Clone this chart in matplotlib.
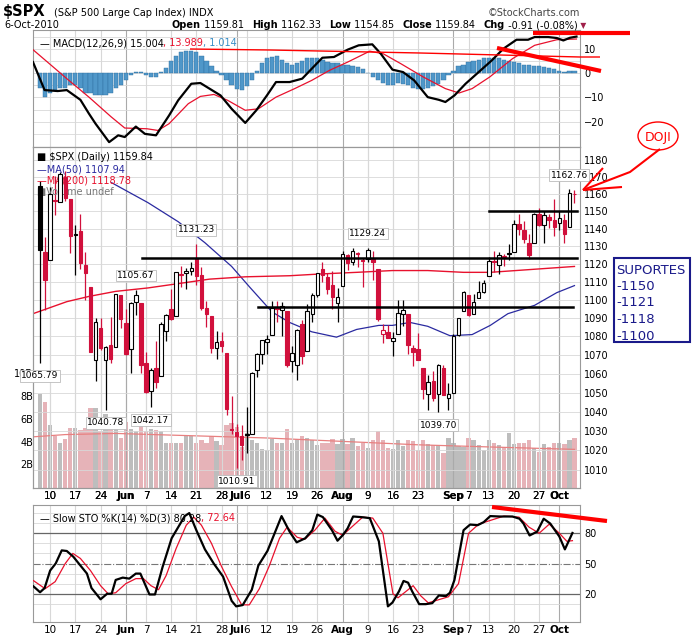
import numpy as np
import pandas as pd
import matplotlib
matplotlib.use("Agg")
import matplotlib.pyplot as plt
from matplotlib.patches import Ellipse, Rectangle
from matplotlib.lines import Line2D

# ---- data ----
holidays = ["2010-05-31", "2010-07-05", "2010-09-06"]
dates = [d for d in pd.bdate_range("2010-05-06", "2010-10-06") if d.strftime("%Y-%m-%d") not in holidays]

opens = [1164.4, 1127.0, 1122.3, 1156.4, 1155.4, 1170.0, 1157.2, 1136.5, 1138.8, 1119.6,
         1107.3, 1067.3, 1084.8, 1067.4, 1075.5, 1074.3, 1102.6, 1087.3, 1073.0, 1098.8,
         1098.4, 1065.8, 1050.8, 1062.8, 1058.8, 1082.7, 1095.0, 1091.2, 1114.0, 1115.0,
         1116.2, 1122.8, 1113.9, 1095.6, 1090.9, 1074.0, 1077.5, 1071.1, 1031.1, 1029.3,
         1027.6, 1028.1, 1028.5, 1062.0, 1070.5, 1077.2, 1080.7, 1095.6, 1094.5, 1093.9,
         1066.9, 1064.5, 1086.7, 1072.1, 1092.2, 1102.9, 1117.4, 1112.8, 1108.1, 1098.4,
         1107.5, 1125.3, 1121.1, 1125.8, 1122.1, 1122.8, 1122.9, 1116.9, 1081.5, 1082.2,
         1077.7, 1081.2, 1092.1, 1092.4, 1073.6, 1073.4, 1063.2, 1049.0, 1056.3, 1049.3,
         1062.9, 1046.9, 1049.7, 1080.7, 1093.6, 1102.6, 1092.4, 1101.2, 1104.6, 1113.4,
         1121.2, 1119.4, 1123.9, 1126.4, 1126.6, 1142.8, 1139.5, 1131.7, 1131.7, 1148.6,
         1142.3, 1146.5, 1145.0, 1143.5, 1145.0, 1140.7, 1159.81]
highs = [1167.6, 1135.1, 1163.9, 1170.5, 1172.9, 1173.6, 1157.2, 1141.9, 1148.7, 1126.6,
         1107.3, 1090.2, 1089.9, 1075.0, 1090.8, 1103.5, 1102.6, 1094.8, 1098.6, 1105.67,
         1098.4, 1071.4, 1063.2, 1077.7, 1087.8, 1092.2, 1105.9, 1115.6, 1118.7, 1117.7,
         1121.0, 1131.23, 1118.5, 1099.6, 1090.9, 1083.1, 1082.6, 1071.1, 1048.1, 1033.5,
         1032.9, 1042.5, 1060.9, 1071.3, 1078.2, 1080.8, 1099.5, 1099.1, 1098.7, 1093.9,
         1074.7, 1083.9, 1089.0, 1097.5, 1103.7, 1115.0, 1121.0, 1114.7, 1115.9, 1106.4,
         1127.3, 1125.4, 1128.8, 1126.6, 1123.1, 1129.24, 1127.2, 1116.9, 1086.7, 1086.3,
         1082.6, 1100.1, 1099.8, 1092.4, 1075.6, 1081.6, 1063.2, 1059.4, 1061.5, 1065.2,
         1064.4, 1055.1, 1081.3, 1090.1, 1105.1, 1102.6, 1103.3, 1110.3, 1110.9, 1123.9,
         1127.4, 1126.5, 1125.4, 1131.5, 1144.9, 1148.6, 1144.4, 1136.8, 1148.9, 1152.0,
         1150.0, 1148.6, 1157.2, 1150.3, 1148.2, 1162.76, 1162.33]
lows = [1065.79, 1094.2, 1122.3, 1147.7, 1155.4, 1156.1, 1126.1, 1114.0, 1117.2, 1100.0,
        1071.6, 1055.9, 1072.7, 1040.78, 1065.6, 1074.3, 1084.8, 1069.9, 1060.5, 1091.8,
        1060.5, 1049.9, 1042.17, 1052.3, 1058.8, 1077.5, 1089.0, 1091.2, 1107.1, 1105.9,
        1113.9, 1108.2, 1094.2, 1085.3, 1071.3, 1067.9, 1071.5, 1038.4, 1028.3, 1010.91,
        1015.0, 1018.4, 1028.5, 1058.2, 1065.1, 1070.5, 1080.7, 1087.7, 1080.5, 1063.3,
        1061.1, 1056.9, 1065.3, 1072.1, 1087.9, 1101.8, 1109.8, 1103.1, 1094.8, 1088.0,
        1107.5, 1116.8, 1119.5, 1118.1, 1107.2, 1120.9, 1111.0, 1088.6, 1076.7, 1079.0,
        1069.5, 1081.2, 1085.8, 1070.7, 1063.9, 1067.1, 1046.7, 1041.0, 1045.4, 1039.70,
        1048.8, 1040.9, 1049.7, 1080.4, 1093.6, 1091.2, 1092.4, 1101.2, 1103.9, 1113.4,
        1115.6, 1114.6, 1118.9, 1122.4, 1126.6, 1136.2, 1131.6, 1122.8, 1131.7, 1141.7,
        1132.1, 1140.3, 1136.1, 1139.4, 1131.9, 1140.7, 1154.85]
closes = [1128.15, 1110.88, 1159.73, 1155.79, 1171.67, 1157.44, 1135.68, 1136.94, 1120.80, 1115.05,
          1071.59, 1087.69, 1073.65, 1074.03, 1067.95, 1103.06, 1089.41, 1070.71, 1098.38, 1102.83,
          1064.88, 1050.47, 1062.00, 1055.69, 1086.84, 1091.60, 1089.63, 1115.23, 1114.61, 1116.04,
          1117.51, 1113.20, 1095.31, 1092.04, 1073.69, 1076.76, 1074.57, 1041.24, 1030.71, 1027.37,
          1022.58, 1028.06, 1060.27, 1070.25, 1077.96, 1078.75, 1095.34, 1095.17, 1096.48, 1064.88,
          1071.25, 1083.48, 1069.59, 1093.67, 1102.66, 1115.01, 1113.84, 1106.13, 1101.53, 1101.60,
          1125.86, 1120.46, 1127.24, 1125.81, 1121.64, 1127.79, 1121.06, 1089.47, 1083.61, 1079.25,
          1079.38, 1092.54, 1094.16, 1075.63, 1071.69, 1067.36, 1051.87, 1055.33, 1047.22, 1064.59,
          1048.92, 1049.33, 1080.29, 1090.10, 1104.51, 1091.84, 1098.87, 1104.18, 1109.55, 1121.90,
          1121.10, 1125.07, 1124.66, 1125.59, 1142.71, 1139.78, 1134.28, 1124.83, 1148.67, 1142.16,
          1147.70, 1144.73, 1141.20, 1146.24, 1137.03, 1160.75, 1159.84]
volume_b = [8.3, 7.6, 5.5, 4.6, 4.0, 4.3, 5.3, 5.3, 5.1, 5.3, 7.0, 7.0, 5.0, 6.5, 6.0, 5.3, 4.4, 5.8,
            5.2, 5.0, 6.0, 5.0, 5.2, 5.1, 5.0, 4.0, 4.0, 4.0, 4.0, 4.6, 4.6, 4.0, 4.2, 4.0, 4.6, 4.1,
            3.8, 5.5, 5.7, 5.4, 3.6, 4.8, 4.2, 4.0, 3.4, 3.3, 4.3, 4.0, 4.0, 5.2, 4.0, 4.3, 4.6, 4.4,
            4.2, 3.8, 4.0, 4.0, 4.3, 3.9, 4.3, 3.9, 4.4, 3.7, 4.0, 3.5, 4.2, 5.0, 4.2, 3.5, 3.4, 4.2,
            3.7, 4.2, 4.1, 3.3, 4.2, 3.9, 3.8, 3.8, 3.1, 4.4, 4.0, 3.7, 3.6, 4.4, 4.2, 3.8, 3.3, 4.2,
            4.0, 3.8, 3.6, 4.8, 3.9, 4.0, 4.0, 4.2, 3.5, 3.2, 3.9, 3.6, 4.0, 4.0, 3.9, 4.2, 4.4]
vol_ma_x = [-1.4, 5, 15, 30, 45, 60, 75, 90, 106]
vol_ma_y = [4.5, 4.7, 4.8, 4.6, 4.4, 4.1, 3.8, 3.6, 3.4]

ma50_x = [14.2, 21.4, 27.4, 32.7, 38, 41.6, 46, 49.5, 53.9, 58.8, 62.8, 67.2, 69.9, 73.4, 76.9,
          81.3, 85.7, 89.3, 92.8, 98.1, 102.5, 106]
ma50_y = [1166.6, 1155, 1144, 1132, 1118.6, 1107, 1093.4, 1087.6, 1082.5, 1079.6, 1083.8, 1086,
          1086, 1087.6, 1085.5, 1080.4, 1081, 1086, 1092.4, 1097, 1104, 1107.9]
ma200_x = [-1.4, 5.3, 9.7, 15, 21.4, 27.4, 33.6, 40.7, 49.5, 55.7, 62.8, 69.9, 76.9, 84, 89.3, 96.4, 106]
ma200_y = [1092.4, 1099, 1101.9, 1104.7, 1106.6, 1109, 1111.5, 1112.8, 1113.4, 1114.4, 1115.3,
           1116.3, 1116.3, 1115.3, 1115.3, 1116.7, 1118.6]

macd_x = [-1.4, 0.9, 3.5, 5.3, 8, 9.7, 11, 13.7, 15.5, 16.8, 19, 20.8, 23, 25.6, 27.4, 30, 31.8,
          33.6, 35.8, 38, 40.7, 42.9, 45, 46.8, 49.5, 52, 53.9, 56, 58.3, 61, 63.2, 65.9, 67.6,
          69.9, 72, 74.2, 76.9, 79.1, 80.4, 82.2, 84.4, 87, 89.6, 91.9, 94.5, 96.8, 98.1, 100.8,
          102.5, 103.8, 105.1, 106.4]
macd_y = [4.5, -7, -7.4, -7, -11, -16.7, -20.8, -28.4, -25.6, -26.3, -22, -25, -25.6, -17.4, -11.2,
          -4.4, -4.1, -6.4, -9.2, -14.7, -20.5, -15.3, -9.2, -3.7, -3.7, -2.3, 1.8, 6.3, 6.6, 9.6,
          11.4, 11.8, 7.9, 1.4, 0.4, -3, -9.9, -11, -11.9, -9.2, -4.4, 0.4, 5.2, 10, 13.7, 13.7,
          14.8, 14.8, 14.4, 13.4, 14.5, 15.0]
signal_x = [-1.4, 3, 5.3, 9.7, 14.1, 16.8, 21.2, 23.4, 25.6, 29.4, 31.8, 34.5, 37.2, 40.7, 43.3,
            46.8, 50.5, 53.9, 57.4, 61, 65.4, 68.1, 71.6, 76, 80.4, 83.1, 85.7, 89.2, 93.7, 98.1,
            102.5, 106.4]
signal_y = [9.6, 1.8, -2.3, -9.9, -18, -22.6, -22.9, -23.6, -20.8, -12.6, -9.6, -8.8, -11.2, -15.3,
            -14.7, -9.9, -6.4, -3, 1.1, 4.5, 9, 7.9, 3.8, -1.6, -6.4, -8.2, -6.4, -1.6, 5.9, 11.4,
            13.7, 14.0]
macd_hist = [-6, -10, -8, -7, -6, -6, -5, -5, -6, -8, -8, -9, -9, -9, -8, -6, -5, -3, -1, 0.5,
             0.3, -1, -1.5, -1.5, 0.5, 2, 5, 7, 8.5, 9, 9, 8.5, 7, 5, 3, 1, -1, -3, -5, -6.5,
             -7, -5.5, -3, 1, 4, 6, 6.5, 7, 5.5, 4, 3.5, 4, 5, 6, 6, 6, 5.5, 4.5, 4, 4,
             3.5, 3.5, 3, 2.5, 1.5, 0, -1.5, -3, -4, -5, -5, -4, -4.5, -5, -6, -6.5, -6.5, -6, -5.5, -4.5,
             -3, -1, 1, 3, 3.5, 4.5, 5, 5.5, 6, 6, 6, 6, 5.5, 5, 4.5, 4, 3.5, 3.5, 3, 3,
             2.5, 2, 1.5, 1, 0.3, 0.8, 1.0]

stok_x = [-1.3, 0, 0.9, 2, 3.1, 4.3, 5.3, 6.6, 8, 9.3, 10.2, 12, 13.3, 14.2, 15, 16.4, 17.7, 19,
          19.9, 21.7, 22.8, 24.3, 26.1, 27.4, 28.7, 29.6, 31, 32.7, 34.5, 36.3, 38, 38.9, 40.2, 42,
          43.3, 45.1, 46.4, 47.9, 49.5, 50.9, 52.6, 54, 55, 56.1, 57.9, 59, 60.1, 61, 62.1, 63.7,
          65.4, 67.2, 69, 69.9, 71.2, 72.1, 73, 73.8, 75.2, 76.5, 77.8, 79.1, 80.5, 81.3, 82.2,
          84, 85.3, 86.8, 88, 89.3, 91.1, 93.7, 95.1, 95.9, 97.1, 98.6, 99.9, 101.2, 103, 104.1, 105.6]
stok_y = [27.3, 21.5, 25.6, 43, 50, 63, 62.4, 56.7, 48, 40, 25.7, 14.5, 20, 20, 33.7, 36, 35, 40,
          40, 19.3, 19.3, 46.5, 75, 86, 97, 100, 83, 64, 49.6, 37, 13, 7.5, 8.8, 24, 48, 62.4, 78.4,
          97, 81.6, 71, 75, 83, 98.5, 96, 83, 72.6, 78.4, 84.8, 96.6, 96, 95, 72, 7.5, 11.3, 22.5,
          32.7, 31, 22.5, 9.7, 9.7, 10.7, 18.3, 17.7, 21, 33.7, 83, 88.6, 88, 91, 97, 96.6, 96.6,
          94.4, 89.6, 77.8, 81.6, 94.4, 89.6, 76.8, 64, 80.28]
stod_x = [-1.3, 1, 3, 5, 6.5, 8, 10, 12, 13.5, 15, 17, 19, 20.5, 22, 23.5, 25, 27, 29, 30.5, 32,
          34, 36, 38, 40, 41.5, 43.5, 45.5, 47.5, 49, 51, 52.5, 54.5, 56.5, 58.5, 60, 62, 64, 66,
          68, 70, 71, 72.5, 74, 75.5, 77, 79, 81, 83, 85, 87, 89.5, 92, 95, 97, 99, 101, 103, 104.5, 105.6]
stod_y = [33, 25, 32, 50, 60, 55, 43, 28, 20, 21, 30, 35, 35, 28, 24, 38, 65, 88, 96, 88, 70, 47,
          27, 9, 9, 25, 48, 75, 86, 76, 74, 83, 95, 82, 78, 87, 96, 95, 80, 20, 16, 22, 28, 18, 11,
          14, 17, 30, 80, 89, 93, 97, 96, 86, 80, 89, 80, 72, 72.64]

# peaks / troughs labelled on the chart (day index, value, above?)
callout_idx = [0, 13, 22, 19, 31, 39, 65, 79, 105]
callout_val = [1065.79, 1040.78, 1042.17, 1105.67, 1131.23, 1010.91, 1129.24, 1039.70, 1162.76]
callout_up = [False, False, False, True, True, False, True, False, True]

support_levels = [1150, 1123.4, 1096.1]
support_start = [89, 20.3, 43.2]
support_end = [106.5, 106.5, 105.7]
suportes = ["SUPORTES", "-1150", "-1121", "-1118", "-1100"]

header_names = ["Open", "High", "Low", "Close", "Chg"]
header_values = ["1159.81", "1162.33", "1154.85", "1159.84", "-0.91 (-0.08%)"]

tick_dates = ["2010-05-10", "2010-05-17", "2010-05-24", "2010-06-01", "2010-06-07", "2010-06-14",
              "2010-06-21", "2010-06-28", "2010-07-01", "2010-07-06", "2010-07-12", "2010-07-19",
              "2010-07-26", "2010-08-02", "2010-08-09", "2010-08-16", "2010-08-23", "2010-09-01",
              "2010-09-07", "2010-09-13", "2010-09-20", "2010-09-27", "2010-10-01"]
tick_labels = ["10", "17", "24", "Jun", "7", "14", "21", "28", "Jul", "6", "12", "19", "26",
               "Aug", "9", "16", "23", "Sep", "7", "13", "20", "27", "Oct"]

# ---- layout ----
W, H = 693, 639
fig = plt.figure(figsize=(W / 100, H / 100), dpi=100)
fig.patch.set_facecolor("white")
FS = 7


def rect(x0, y0, x1, y1):
    return [x0 / W, 1 - y1 / H, (x1 - x0) / W, (y1 - y0) / H]


def fpt(x, y):
    return x / W, 1 - y / H


RED = "#e8112d"
CANDLE_RED = "#d1103c"
GRID = "#d8d8d8"
XLIM = (-1.4, 107.1)
date_key = [d.strftime("%Y-%m-%d") for d in dates]
tick_pos = [date_key.index(t) for t in tick_dates]
month_tick = [not lab.isdigit() for lab in tick_labels]
x = np.arange(len(closes))

ax_macd = fig.add_axes(rect(33, 30, 580, 147))
ax_vol = fig.add_axes(rect(33, 147, 580, 488))
ax_px = fig.add_axes(rect(33, 147, 580, 488), sharex=ax_vol)
ax_sto = fig.add_axes(rect(33, 505, 580, 622))
ax_px.patch.set_alpha(0)


def style(ax):
    ax.set_xlim(*XLIM)
    ax.yaxis.tick_right()
    ax.tick_params(axis="y", length=0, labelsize=FS, pad=3)
    ax.tick_params(axis="x", length=0, labelsize=7.5, pad=2)
    for s in ax.spines.values():
        s.set_color("#999999")
        s.set_linewidth(0.8)
    for p, m in zip(tick_pos, month_tick):
        ax.axvline(p, color="#aaaaaa" if m else GRID, lw=0.8, zorder=0)
    ax.set_xticks(tick_pos)
    ax.set_xticklabels([])


for a in (ax_macd, ax_vol, ax_px, ax_sto):
    style(a)
ax_vol.spines["right"].set_visible(False)
for a in (ax_px, ax_sto):
    a.set_xticklabels(tick_labels)
    for lab, m in zip(a.get_xticklabels(), month_tick):
        if m:
            lab.set_fontweight("bold")


def chain(host, anchor, s, gap=0, **kw):
    # write a text just right of another text
    return host.annotate(s, xy=(1, 0), xycoords=anchor, xytext=(gap, 0),
                         textcoords="offset points", va="bottom", annotation_clip=False, **kw)


def legend_chain(ax, parts, y=0.93):
    t = ax.text(0.012, y, parts[0][0], color=parts[0][1], transform=ax.transAxes, fontsize=FS, va="top")
    for s, c in parts[1:]:
        t = chain(ax, t, s, color=c, fontsize=FS)


# ---- MACD ----
ax_macd.set_ylim(-30.4, 17.7)
ax_macd.set_yticks([10, 0, -10, -20])
for v in (15, 10, 5, 0, -5, -10, -15, -20, -25):
    ax_macd.axhline(v, color=GRID, lw=0.6, zorder=0)
ax_macd.bar(x, macd_hist, width=0.85, color="#4f97c9", edgecolor="#2f6f9f", lw=0.3, zorder=2)
ax_macd.plot(signal_x, signal_y, color=RED, lw=0.9, zorder=3)
ax_macd.plot(macd_x, macd_y, color="black", lw=1.6, zorder=4)
legend_chain(ax_macd, [("\u2014 MACD(12,26,9) 15.004", "black"), (", 13.989", RED), (", 1.014", "#3a8fc7")])

# ---- volume ----
up = [c >= p for c, p in zip(closes, [closes[0]] + closes[:-1])]
ax_vol.bar(x, volume_b, width=0.85, color=["#bdbdbd" if u else "#e6b3b8" for u in up], zorder=1)
ax_vol.plot(vol_ma_x, vol_ma_y, color="#e88080", lw=0.9, zorder=2)
ax_vol.set_ylim(0, 30)
ax_vol.set_yticks([])
for v, lab in zip([2, 4, 6, 8, 10], ["2B", "4B", "6B", "8B", "10B"]):
    ax_vol.text(0.0, v / 30, lab, transform=ax_vol.transAxes, ha="right", va="center", fontsize=FS)

# ---- price ----
ax_px.set_yscale("log")
ax_px.set_ylim(1000.9, 1187.7)
pticks = list(range(1010, 1190, 10))
ax_px.set_yticks(pticks)
ax_px.set_yticklabels([str(t) for t in pticks])
ax_px.yaxis.set_minor_locator(matplotlib.ticker.NullLocator())
for t in pticks:
    ax_px.axhline(t, color=GRID, lw=0.6, zorder=0)
prev = [closes[0]] + closes[:-1]
for i in range(len(closes)):
    col = "black" if closes[i] >= prev[i] else CANDLE_RED
    ax_px.vlines(i, lows[i], highs[i], color=col, lw=0.9, zorder=3)
    lo, hi = min(opens[i], closes[i]), max(opens[i], closes[i])
    face = "white" if closes[i] > opens[i] else col
    ax_px.add_patch(Rectangle((i - 0.35, lo), 0.7, max(hi - lo, 0.3), facecolor=face,
                              edgecolor=col, lw=0.8, zorder=4))
ax_px.plot(ma50_x, ma50_y, color="#2a2aa0", lw=0.9, zorder=2)
ax_px.plot(ma200_x, ma200_y, color=RED, lw=1.0, zorder=2)
for lvl, s, e in zip(support_levels, support_start, support_end):
    ax_px.plot([s, e], [lvl, lvl], color="black", lw=1.8, zorder=5)
for i, v, u in zip(callout_idx, callout_val, callout_up):
    off = 7 if u else -6
    ax_px.annotate(f"{v:.2f}", (i, v), xytext=(0, off), textcoords="offset points",
                   ha="center", va="bottom" if u else "top", fontsize=6.5, zorder=6,
                   annotation_clip=False,
                   bbox=dict(boxstyle="square,pad=0.15", fc="white", ec="#bbbbbb", lw=0.6))
ax_px.text(0.008, 0.985, "\u25a0 $SPX (Daily) 1159.84", transform=ax_px.transAxes, fontsize=FS, va="top")
ax_px.text(0.008, 0.948, "\u2014MA(50) 1107.94", transform=ax_px.transAxes, fontsize=FS, va="top", color="#2a2aa0")
ax_px.text(0.008, 0.916, "\u2014MA(200) 1118.78", transform=ax_px.transAxes, fontsize=FS, va="top", color=RED)
ax_px.text(0.008, 0.884, "\u25a0Volume undef", transform=ax_px.transAxes, fontsize=FS, va="top", color="#777777")

# ---- slow stochastic ----
ax_sto.set_ylim(-8, 108)
ax_sto.set_yticks([80, 50, 20])
for v in (10, 30, 40, 60, 70, 90, 100):
    ax_sto.axhline(v, color=GRID, lw=0.6, zorder=0)
ax_sto.axhline(80, color="#666666", lw=0.9, zorder=1)
ax_sto.axhline(20, color="#666666", lw=0.9, zorder=1)
ax_sto.axhline(50, color="#777777", lw=0.8, ls="-.", zorder=1)
ax_sto.plot(stod_x, stod_y, color=RED, lw=0.9, zorder=3)
ax_sto.plot(stok_x, stok_y, color="black", lw=1.6, zorder=4)
legend_chain(ax_sto, [("\u2014 Slow STO %K(14) %D(3) 80.28", "black"), (", 72.64", RED)])

# ---- header ----
fig.text(*fpt(3, 16), "$SPX", fontsize=10.5, fontweight="bold", va="baseline")
fig.text(*fpt(54, 16), "(S&P 500 Large Cap Index) INDX", fontsize=FS, va="baseline")
fig.text(*fpt(580, 16), "\u00a9StockCharts.com", fontsize=FS, ha="right", va="baseline", color="#444444")
fig.text(*fpt(4, 28), "6-Oct-2010", fontsize=FS, va="baseline")
t = None
for name, val in zip(header_names, header_values):
    if t is None:
        t = fig.text(*fpt(172, 28), name, fontsize=FS, fontweight="bold", va="baseline")
    else:
        t = chain(ax_macd, t, name, gap=6, fontsize=FS, fontweight="bold")
    t = chain(ax_macd, t, " " + val, fontsize=FS)
chain(ax_macd, t, " \u25bc", fontsize=5.5, color="#a0204a")

# ---- hand-drawn annotations ----
def fline(pts, lw=3):
    xs = [p[0] / W for p in pts]
    ys = [1 - p[1] / H for p in pts]
    fig.add_artist(Line2D(xs, ys, color="red", lw=lw, solid_capstyle="butt"))


fline([(190, 49), (270, 50), (320, 51), (420, 53), (500, 55), (580, 57), (600, 57)], lw=1)
fline([(533, 33), (630, 33)])
fline([(497, 48), (601, 71)])
fline([(492, 507), (607, 521)])
fig.add_artist(Ellipse(fpt(658, 136), 40 / W, 28 / H, fill=False, ec="red", lw=1))
fig.text(*fpt(658, 137), "DOJI", color="red", fontsize=9, ha="center", va="center")
fline([(660, 149), (630, 172), (583, 190)], lw=1.5)
fline([(603, 168), (583, 190)], lw=1.5)
fline([(622, 187), (583, 190)], lw=1.5)
fig.add_artist(Rectangle(fpt(614, 342), 76 / W, 84 / H, fill=False, ec="#1a1a8a", lw=1.5))
for k, s in enumerate(suportes):
    fig.text(*fpt(616, 270 + k * 16.5), s, color="#1a1a8a", fontsize=9.5, va="center")

fig.savefig("out.png", dpi=100)
